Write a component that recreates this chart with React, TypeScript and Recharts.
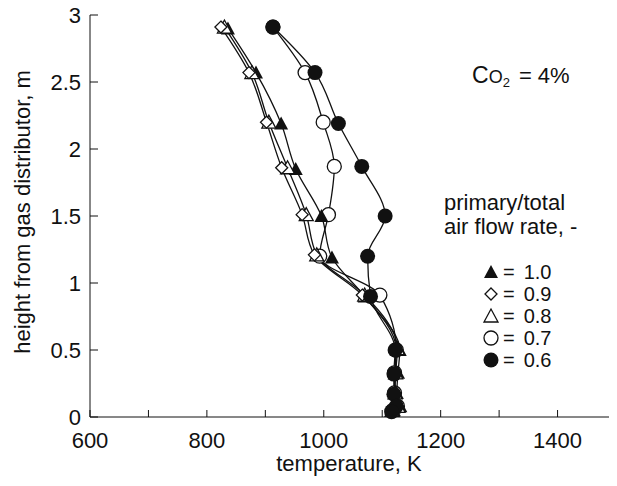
import React from "react";
import { LineChart, Line, XAxis, YAxis } from "recharts";

// axis ticks
const xTicks = [600, 700, 800, 900, 1000, 1100, 1200, 1300, 1400, 1500];
const xLabelled = [600, 800, 1000, 1200, 1400];
const yTicks = [0, 0.5, 1, 1.5, 2, 2.5, 3];

// primary/total air flow rate = 1.0 (filled triangle)
const temp10 = [836, 884, 927, 952, 996, 1014, 1070, 1130, 1127, 1125, 1131, 1120];
const height10 = [2.9, 2.57, 2.19, 1.85, 1.5, 1.19, 0.9, 0.5, 0.33, 0.18, 0.08, 0.05];
// = 0.9 (diamond)
const temp09 = [824, 872, 902, 928, 963, 984, 1066, 1124, 1122, 1121, 1126, 1116];
const height09 = [2.91, 2.57, 2.2, 1.86, 1.51, 1.21, 0.91, 0.5, 0.33, 0.18, 0.08, 0.05];
// = 0.8 (open triangle)
const temp08 = [830, 877, 906, 938, 970, 988, 1070, 1126, 1123, 1122, 1127, 1117];
const height08 = [2.91, 2.57, 2.2, 1.86, 1.51, 1.21, 0.91, 0.51, 0.33, 0.18, 0.08, 0.05];
// = 0.7 (open circle)
const temp07 = [913, 968, 999, 1018, 1008, 993, 1096, 1124, 1121, 1121, 1126, 1118];
const height07 = [2.91, 2.57, 2.2, 1.87, 1.51, 1.2, 0.91, 0.5, 0.33, 0.18, 0.08, 0.05];
// = 0.6 (filled circle)
const temp06 = [913, 985, 1025, 1065, 1105, 1075, 1080, 1122, 1120, 1120, 1124, 1116];
const height06 = [2.91, 2.57, 2.19, 1.87, 1.5, 1.2, 0.9, 0.5, 0.32, 0.17, 0.08, 0.04];

const legendRows = [
  { kind: "filledTri", label: "1.0" },
  { kind: "diamond", label: "0.9" },
  { kind: "openTri", label: "0.8" },
  { kind: "openCircle", label: "0.7" },
  { kind: "filledCircle", label: "0.6" },
];

const FONT = '"Liberation Sans", Arial, Helvetica, sans-serif';
const INK = "#111";
const FS = 22;

const toRows = (t: number[], h: number[]) => t.map((v, i) => ({ t: v, h: h[i] }));

function Marker({ kind, cx, cy }: { kind: string; cx: number; cy: number }) {
  const sw = 1.3;
  switch (kind) {
    case "filledTri":
      return <polygon points={`${cx - 7},${cy + 6} ${cx + 7},${cy + 6} ${cx},${cy - 7}`} fill={INK} />;
    case "openTri":
      return (
        <polygon
          points={`${cx - 7},${cy + 6} ${cx + 7},${cy + 6} ${cx},${cy - 7}`}
          fill="#fff"
          stroke={INK}
          strokeWidth={sw}
        />
      );
    case "diamond":
      return (
        <polygon
          points={`${cx},${cy - 6} ${cx + 6},${cy} ${cx},${cy + 6} ${cx - 6},${cy}`}
          fill="#fff"
          stroke={INK}
          strokeWidth={sw}
        />
      );
    case "openCircle":
      return <circle cx={cx} cy={cy} r={7} fill="#fff" stroke={INK} strokeWidth={sw} />;
    default:
      return <circle cx={cx} cy={cy} r={7.5} fill={INK} />;
  }
}

const dotFor = (kind: string) => (p: any) =>
  <Marker key={`${kind}-${p.index}`} kind={kind} cx={p.cx} cy={p.cy} />;

const series = [
  { id: "s07", kind: "openCircle", data: toRows(temp07, height07) },
  { id: "s10", kind: "filledTri", data: toRows(temp10, height10) },
  { id: "s08", kind: "openTri", data: toRows(temp08, height08) },
  { id: "s09", kind: "diamond", data: toRows(temp09, height09) },
  { id: "s06", kind: "filledCircle", data: toRows(temp06, height06) },
];

// inward tick marks drawn by hand, labels beside them
const XM = 15;
const BottomTick = (p: any) => {
  const v = p.payload.value;
  const axisY = p.y - XM;
  return (
    <g>
      <line x1={p.x} x2={p.x} y1={axisY} y2={axisY - 7} stroke={INK} />
      {xLabelled.includes(v) && (
        <text x={p.x} y={p.y} dy="0.72em" textAnchor="middle" fontSize={FS} fontFamily={FONT} fill={INK}>
          {v}
        </text>
      )}
    </g>
  );
};
const TopTick = (p: any) => <line x1={p.x} x2={p.x} y1={p.y} y2={p.y + 7} stroke={INK} />;

const YM = 9;
const LeftTick = (p: any) => {
  const axisX = p.x + YM;
  return (
    <g>
      <line x1={axisX} x2={axisX + 8} y1={p.y} y2={p.y} stroke={INK} />
      <text x={p.x} y={p.y} dy="0.36em" textAnchor="end" fontSize={FS} fontFamily={FONT} fill={INK}>
        {p.payload.value}
      </text>
    </g>
  );
};
const RightTick = (p: any) => <line x1={p.x} x2={p.x - 8} y1={p.y} y2={p.y} stroke={INK} />;

export default function App() {
  return (
    <div style={{ position: "relative", width: 617, height: 486, margin: "-8px 0 0 -8px", background: "#fff" }}>
      <LineChart width={617} height={486} margin={{ top: 15, right: 1, bottom: 0, left: 0 }}>
        <XAxis
          xAxisId="b"
          dataKey="t"
          type="number"
          domain={[600, 1500]}
          ticks={xTicks}
          interval={0}
          height={69}
          tickSize={0}
          tickMargin={XM}
          tickLine={false}
          tick={BottomTick}
          stroke={INK}
          allowDataOverflow
        />
        <XAxis
          xAxisId="top"
          orientation="top"
          dataKey="t"
          type="number"
          domain={[600, 1500]}
          ticks={xTicks}
          interval={0}
          height={0}
          tickSize={0}
          tickMargin={0}
          tickLine={false}
          tick={TopTick}
          stroke={INK}
        />
        <YAxis
          yAxisId="l"
          dataKey="h"
          type="number"
          domain={[0, 3]}
          ticks={yTicks}
          interval={0}
          width={90}
          tickSize={0}
          tickMargin={YM}
          tickLine={false}
          tick={LeftTick}
          stroke={INK}
        />
        <YAxis
          yAxisId="r"
          orientation="right"
          dataKey="h"
          type="number"
          domain={[0, 3]}
          ticks={yTicks}
          interval={0}
          width={0}
          tickSize={0}
          tickMargin={0}
          tickLine={false}
          tick={RightTick}
          stroke={INK}
        />
        {series.map((s) => (
          <Line
            key={s.id}
            xAxisId="b"
            yAxisId="l"
            data={s.data}
            dataKey="h"
            type="monotoneY"
            stroke={INK}
            strokeWidth={1.3}
            dot={dotFor(s.kind)}
            activeDot={false}
            isAnimationActive={false}
          />
        ))}
      </LineChart>
      <svg
        width={617}
        height={486}
        style={{ position: "absolute", left: 0, top: 0, pointerEvents: "none" }}
        fontFamily={FONT}
        fill={INK}
      >
        <text x={349} y={471} fontSize={FS} textAnchor="middle">temperature, K</text>
        <text x={30} y={212} fontSize={FS} textAnchor="middle" transform="rotate(-90 30 212)">
          height from gas distributor, m
        </text>
        <text x={472} y={83} fontSize={23}>
          C<tspan fontSize={18}>O</tspan>
          <tspan fontSize={13} dy={4}>2</tspan>
          <tspan fontSize={FS} dy={-4} dx={9}>= 4%</tspan>
        </text>
        <text x={444} y={210} fontSize={FS}>primary/total</text>
        <text x={444} y={234} fontSize={FS}>air flow rate, -</text>
        {legendRows.map((r, i) => (
          <g key={r.label}>
            <Marker kind={r.kind} cx={491} cy={272 + i * 22} />
            <text x={503} y={272 + i * 22 + 7} fontSize={20}>
              =<tspan dx={9}>{r.label}</tspan>
            </text>
          </g>
        ))}
      </svg>
    </div>
  );
}
